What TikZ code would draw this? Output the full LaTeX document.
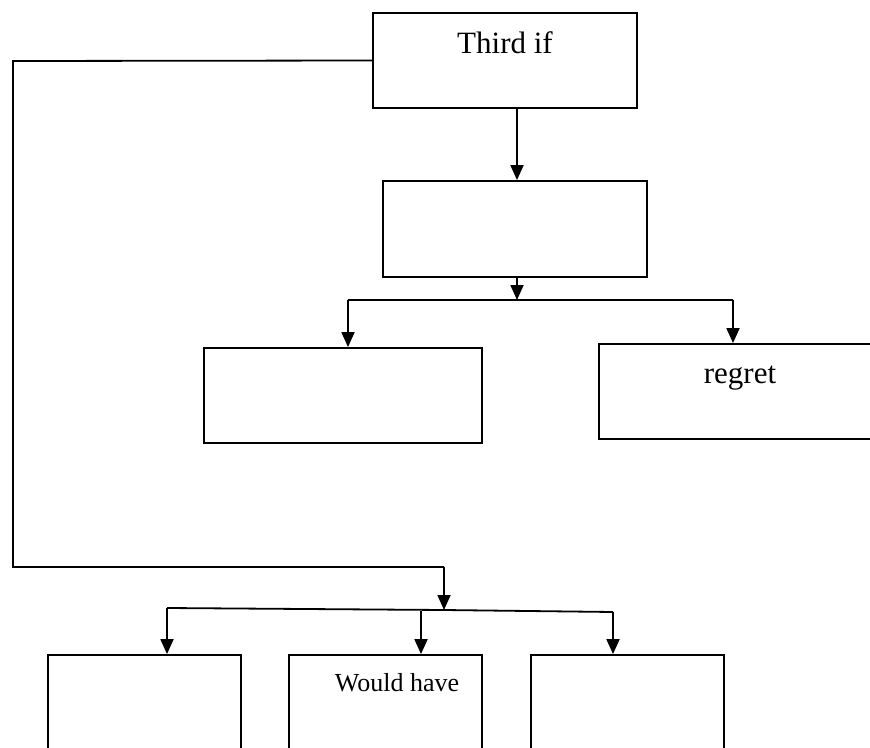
\documentclass[tikz,border=0pt]{standalone}
\usepackage{fontspec}
\setmainfont{Liberation Serif}
\usetikzlibrary{arrows.meta}
\begin{document}
\begin{tikzpicture}[x=1pt,y=-1pt,
  box/.style={draw,line width=1.8pt,inner sep=0pt},
  conn/.style={line width=1.8pt},
  arr/.style={conn,-{Triangle[length=15pt,width=13pt]}},
  bigtxt/.style={font=\fontsize{31}{36}\selectfont,inner sep=0pt,anchor=base},
  smalltxt/.style={font=\fontsize{26}{30}\selectfont,inner sep=0pt,anchor=base}]
\useasboundingbox (0,0) rectangle (870,747);
\clip (0,0) rectangle (870,747);
% boxes
\path (373,13) coordinate (t1) (637,108) coordinate (t2);
\node[box,fit/.style={},minimum width=264pt,minimum height=95pt] (top) at (505,60.5) {};
\node[box,minimum width=264pt,minimum height=96pt] (mid) at (515,229) {};
\node[box,minimum width=278pt,minimum height=95pt] (lbox) at (343,395.5) {};
\node[box,minimum width=291pt,minimum height=95pt] (regret) at (744.5,391.5) {};
\node[box,minimum width=193pt,minimum height=110pt] (b1) at (144.5,710) {};
\node[box,minimum width=193pt,minimum height=110pt] (b2) at (385.5,710) {};
\node[box,minimum width=193pt,minimum height=110pt] (b3) at (627.5,710) {};
% texts
\node[bigtxt] (ttop) at (505,53) {Third if};
\node[bigtxt] (treg) at (740,383) {regret};
\node[smalltxt] (tb2) at (397,691) {Would have};
% connector coordinates
\coordinate (mx) at (517,0);
\coordinate (j1) at (517,300);
\coordinate (j1l) at (348,300);
\coordinate (j1r) at (733,300);
\coordinate (c1) at (13,61);
\coordinate (c2) at (13,567);
\coordinate (c3) at (444,567);
\coordinate (j2) at (444,610);
\coordinate (j2l) at (167,608);
\coordinate (j2m) at (421,611);
\coordinate (j2r) at (613,612);
% connectors
\draw[arr] (top.south -| mx) -- (mid.north -| mx);
\draw[arr] (mid.south -| mx) -- (j1);
\draw[conn] (j1l) -- (j1r);
\draw[arr] (j1l) -- (lbox.north -| j1l);
\draw[arr] (j1r) -- (regret.north -| j1r);
\draw[conn] (top.west) -- (c1) -- (c2) -- (c3);
\draw[arr] (c3) -- (j2);
\draw[conn] (j2l) -- (j2) -- (j2r);
\draw[arr] (j2l) -- (b1.north -| j2l);
\draw[arr] (j2m) -- (b2.north -| j2m);
\draw[arr] (j2r) -- (b3.north -| j2r);
\end{tikzpicture}
\end{document}
